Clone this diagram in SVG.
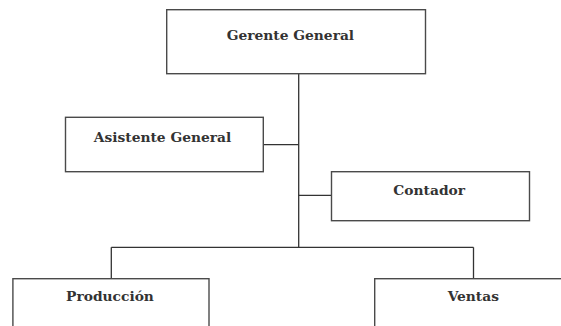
<svg xmlns="http://www.w3.org/2000/svg" width="561" height="326" viewBox="0 0 561 326">
<style>
.box{fill:#fff;stroke:#4a4a4a;stroke-width:1.4}
.lbl{font-family:"DejaVu Serif",serif;font-weight:bold;font-size:13.8px;fill:#333;text-anchor:middle}
.con{fill:none;stroke:#333;stroke-width:1.3}
</style>
<rect width="561" height="326" fill="#fff"/>
<g id="connectors">
<path class="con" d="M298.7 73.7V247.3"/>
<path class="con" d="M263.3 144.7H298.7"/>
<path class="con" d="M298.7 195.3H331.5"/>
<path class="con" d="M111.3 247.3H473.5"/>
<path class="con" d="M111.3 247.3V278.7"/>
<path class="con" d="M473.5 247.3V278.7"/>
</g>
<g id="gerente">
<rect class="box" x="166.7" y="9.7" width="258.8" height="64"/>
<text class="lbl" x="290.4" y="39.5">Gerente General</text>
</g>
<g id="asistente">
<rect class="box" x="65.5" y="117.3" width="197.8" height="54.4"/>
<text class="lbl" x="162.5" y="141.9">Asistente General</text>
</g>
<g id="contador">
<rect class="box" x="331.5" y="171.7" width="198" height="49"/>
<text class="lbl" x="429.2" y="194.9">Contador</text>
</g>
<g id="produccion">
<rect class="box" x="12.9" y="278.7" width="196.1" height="60"/>
<text class="lbl" x="110" y="300.9">Producción</text>
</g>
<g id="ventas">
<rect class="box" x="374.7" y="278.7" width="200" height="60"/>
<text class="lbl" x="473.3" y="300.9">Ventas</text>
</g>
</svg>
